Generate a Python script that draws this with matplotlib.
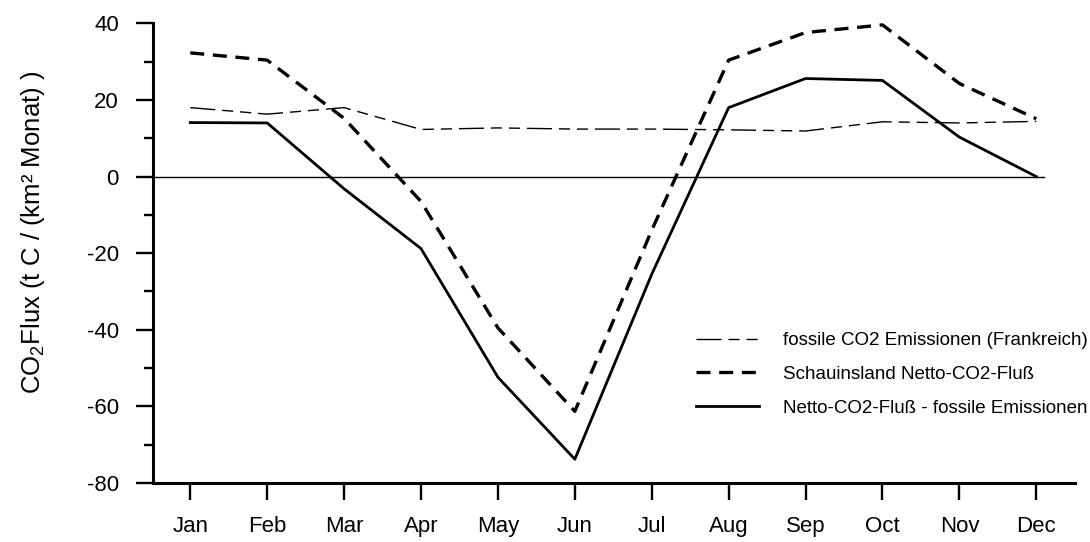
import matplotlib
matplotlib.use('Agg')
import matplotlib.pyplot as plt
from matplotlib.ticker import MultipleLocator

plt.rcParams['font.family'] = ['Liberation Sans', 'DejaVu Sans']
plt.rcParams['mathtext.fontset'] = 'custom'
plt.rcParams['mathtext.rm'] = 'Liberation Sans'
plt.rcParams['mathtext.it'] = 'Liberation Sans'
plt.rcParams['axes.unicode_minus'] = False

months = ['Jan', 'Feb', 'Mar', 'Apr', 'May', 'Jun',
          'Jul', 'Aug', 'Sep', 'Oct', 'Nov', 'Dec']
fossil = [18.0, 16.3, 18.0, 12.3, 12.7, 12.4, 12.4, 12.2, 11.9, 14.3, 14.0, 14.4]
schauinsland = [32.3, 30.4, 15.2, -6.5, -39.5, -61.3, -14.0, 30.4, 37.6, 39.6, 24.3, 15.1]
netto = [14.1, 14.0, -3.2, -18.8, -52.4, -73.8, -25.5, 18.0, 25.6, 25.1, 10.3, 0.0]

x = list(range(len(months)))

fig = plt.figure(figsize=(10.9, 5.42), dpi=100)
ax = fig.add_axes([0.140, 0.1089, 0.846, 0.848])

# zero reference line
ax.axhline(0, xmin=0, xmax=0.967, color='black', lw=1.0)

l1, = ax.plot(x, fossil, color='black', lw=1.0, label='fossile CO2 Emissionen (Frankreich)')
l1.set_dashes([18, 5, 8, 5, 8, 5])
l2, = ax.plot(x, schauinsland, color='black', lw=2.4, label='Schauinsland Netto-CO2-Fluß')
l2.set_dashes([4.2, 2.6])
l3, = ax.plot(x, netto, color='black', lw=2.0, label='Netto-CO2-Fluß - fossile Emissionen')

ax.set_xlim(-0.49, 11.5)
ax.set_ylim(-80, 40)
ax.set_xticks(x)
ax.set_xticklabels(months)
ax.yaxis.set_major_locator(MultipleLocator(20))
ax.yaxis.set_minor_locator(MultipleLocator(10))

ax.spines['top'].set_visible(False)
ax.spines['right'].set_visible(False)
ax.spines['left'].set_linewidth(2.2)
ax.spines['bottom'].set_linewidth(2.2)

ax.tick_params(axis='both', which='major', direction='out', length=12.2, width=1.7,
               labelsize=16)
ax.tick_params(axis='y', which='major', pad=12)
ax.tick_params(axis='x', which='major', pad=11.5)
ax.tick_params(axis='y', which='minor', direction='out', length=6.5, width=1.7)

ax.set_ylabel(r'CO$_2$Flux (t C / (km² Monat) )', fontsize=18.5)
ax.yaxis.set_label_coords(-0.114, 0.545)

fig.legend(handles=[l1, l2, l3], loc='upper left', bbox_to_anchor=(0.6385, 0.3875),
           frameon=False, fontsize=13.5, handlelength=3.36, handletextpad=1.28,
           labelspacing=0.89, borderpad=0, borderaxespad=0)

fig.savefig('out.png', dpi=100)
